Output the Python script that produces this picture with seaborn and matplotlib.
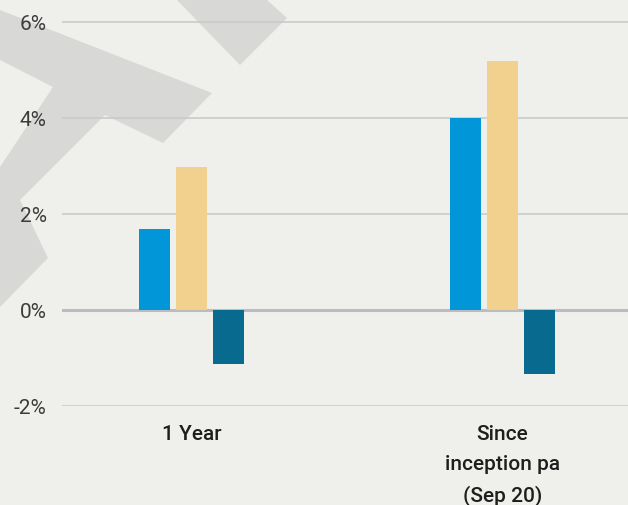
import matplotlib
matplotlib.use('Agg')
import matplotlib.pyplot as plt
from matplotlib.patches import Polygon
import seaborn as sns
import pandas as pd

# data
categories = ['1 Year', 'Since\ninception pa\n(Sep 20)']
series = ['Fund', 'Benchmark', 'Excess']
fund = [1.68, 4.0]
benchmark = [2.98, 5.19]
excess = [-1.13, -1.33]
y_ticks = [-2, 0, 2, 4, 6]
y_tick_labels = ['-2%', '0%', '2%', '4%', '6%']

colors = ['#0096d8', '#f2d18f', '#086a8e']
bg = '#efefeb'

df = pd.DataFrame({
    'category': categories * 3,
    'series': [s for s in series for _ in categories],
    'value': fund + benchmark + excess,
})

sns.set_theme(style='white')
plt.rcParams['font.family'] = ['Roboto', 'DejaVu Sans']

W, H = 628, 505
fig = plt.figure(figsize=(W / 100, H / 100), dpi=100, facecolor=bg)

# decorative watermark shapes (pixel coords of the picture, y down)
shapes = [
    [(177, 0), (267, 0), (287, 18), (240, 65)],
    [(0, 10), (212, 93), (163, 143), (105, 115), (20, 200), (48, 258),
     (0, 307), (0, 167), (53, 87), (0, 60)],
]
for pts in shapes:
    fig.patches.append(Polygon([(x / W, 1 - y / H) for x, y in pts], closed=True,
                               transform=fig.transFigure, facecolor='#d8d9d7',
                               edgecolor='none', zorder=-1))

ax = fig.add_axes([62 / W, 99 / H, 566 / W, 406 / H])
ax.set_facecolor('none')

sns.barplot(data=df, x='category', y='value', hue='series', palette=colors,
            width=0.357, gap=0.16, saturation=1, legend=False, ax=ax, zorder=3,
            edgecolor='none', linewidth=0)

ax.set_ylim(-2, 6.46)
ax.set_xlim(-0.416, 1.4035)
ax.set_yticks(y_ticks)
ax.set_yticklabels(y_tick_labels, fontsize=15, fontweight='normal', color='#3c3c3c')
ax.yaxis.grid(True, color='#cacacc', linewidth=1.2, zorder=1)
ax.axhline(0, color='#bcbcc0', linewidth=2.2, zorder=2)
ax.set_axisbelow(True)
for s in ax.spines.values():
    s.set_visible(False)
ax.tick_params(axis='y', length=0, pad=11)
ax.tick_params(axis='x', length=0, pad=14)
for lbl in ax.get_xticklabels():
    lbl.set_fontsize(15)
    lbl.set_fontweight('medium')
    lbl.set_color('#1e1e1e')
    lbl.set_linespacing(1.7)
    lbl.set_verticalalignment('top')
ax.set_xlabel('')
ax.set_ylabel('')

fig.savefig('out.png', dpi=100, facecolor=bg)
